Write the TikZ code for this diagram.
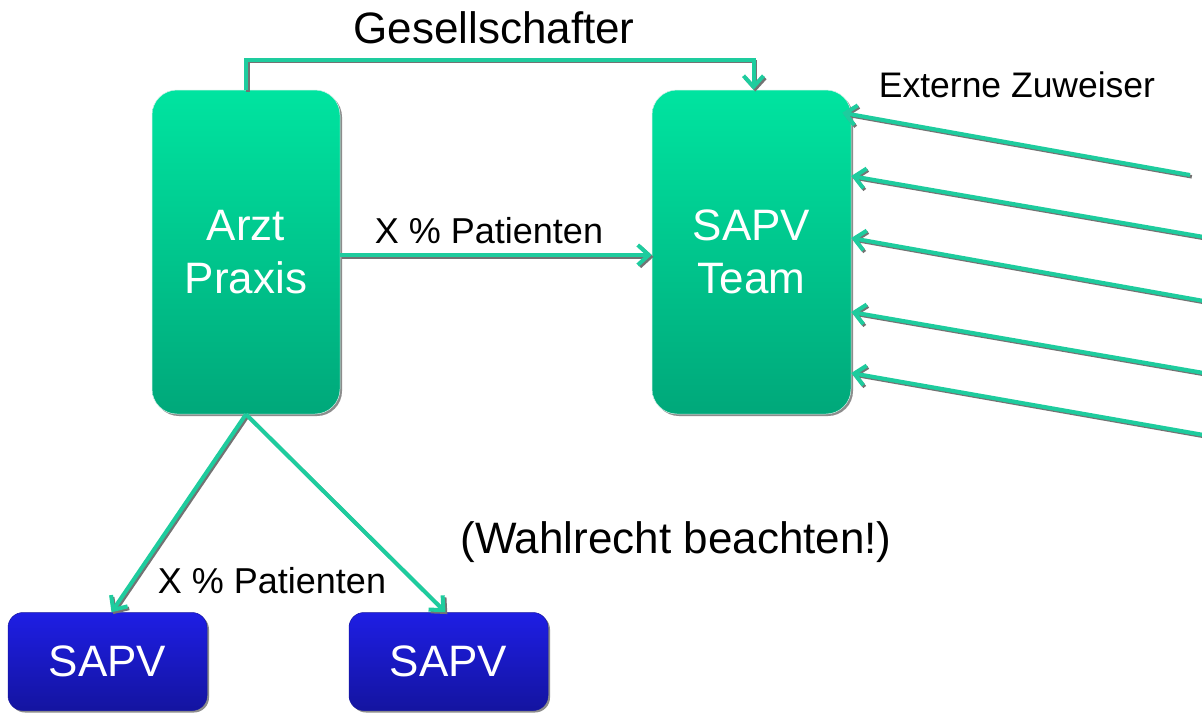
\documentclass[tikz,border=0pt]{standalone}
\usepackage{fontspec}
\setmainfont{Liberation Sans}
\usetikzlibrary{arrows.meta,calc,shadows}
\definecolor{lineg}{RGB}{30,204,158}
\definecolor{gtop}{RGB}{0,228,160}
\definecolor{gbot}{RGB}{0,168,122}
\definecolor{btop}{RGB}{30,30,228}
\definecolor{bbot}{RGB}{20,20,160}
\newcommand\bigtext{\fontsize{44}{53}\selectfont}
\newcommand\midtext{\fontsize{36}{43}\selectfont}
\newcommand\smtext{\fontsize{35.5}{42}\selectfont}
\tikzset{
  greenbox/.style={rounded corners=25pt, top color=gtop, bottom color=gbot, draw=gtop!80!black!20, line width=0.5pt,
    text=white, align=center, inner sep=0pt, font=\bigtext,
    drop shadow={shadow xshift=2pt, shadow yshift=-2pt, fill=black!45, opacity=1}},
  bluebox/.style={rounded corners=15pt, top color=btop, bottom color=bbot, draw=btop!70!black, line width=0.5pt,
    text=white, align=center, inner sep=0pt, font=\bigtext, minimum width=199pt, minimum height=98pt,
    drop shadow={shadow xshift=2pt, shadow yshift=-2pt, fill=black!45, opacity=1}},
  conn/.style={draw=lineg, line width=4pt, -{Straight Barb[length=11pt,width=20pt,line width=4pt]}},
  connsh/.style={draw=black!55, line width=3.5pt, -{Straight Barb[length=11pt,width=20pt,line width=3.5pt]}},
  lbl/.style={text=black, inner sep=0pt, anchor=base}
}
\newcommand\dconn[1]{%
  \begin{scope}[transform canvas={shift={(1.8pt,-1.8pt)}}]\draw[connsh] #1;\end{scope}%
  \draw[conn] #1;}
\begin{document}
\begin{tikzpicture}[x=1pt,y=-1pt]
\useasboundingbox[fill=white] (0,0) rectangle (1202,713);
% boxes
\node[greenbox, minimum width=188pt, minimum height=324pt] (arzt) at (246,252) {Arzt\\Praxis};
\node[greenbox, minimum width=199pt, minimum height=324pt] (team) at (751.5,252) {SAPV\\Team};
\node[bluebox] (s1) at (107.5,661.5) {SAPV};
\node[bluebox] (s2) at (448.5,661.5) {SAPV};
% external sources
\coordinate (e1) at (1190,175);
\coordinate (e2) at (1204,237);
\coordinate (e3) at (1204,301);
\coordinate (e4) at (1204,373);
\coordinate (e5) at (1204,435);
% labels
\node[lbl, font=\bigtext] (gl) at (494,43) {Gesellschafter};
\node[lbl, font=\midtext] (pl1) at (489,243) {X \% Patienten};
\node[lbl, font=\smtext] (ez) at (1017,97) {Externe Zuweiser};
\node[lbl, font=\bigtext] (wr) at (676,553) {(Wahlrecht beachten!)};
\node[lbl, font=\midtext] (pl2) at (272,593) {X \% Patienten};
% connectors
\dconn{(arzt.north) -- ++(0,-30) -| ($(team.north)+(2,0)$)}
\dconn{($(arzt.east)+(0,3)$) -- ($(team.west)+(0,3)$)}
\dconn{(arzt.south) -- ($(s1.north)+(4,0)$)}
\dconn{(arzt.south) -- ($(s2.north)+(-3,0)$)}
\dconn{(e1) -- ($(team.north east)+(-9,23)$)}
\dconn{(e2) -- ($(team.east)+(0,-76)$)}
\dconn{(e3) -- ($(team.east)+(0,-14)$)}
\dconn{(e4) -- ($(team.east)+(0,60)$)}
\dconn{(e5) -- ($(team.east)+(0,121)$)}
\end{tikzpicture}
\end{document}
